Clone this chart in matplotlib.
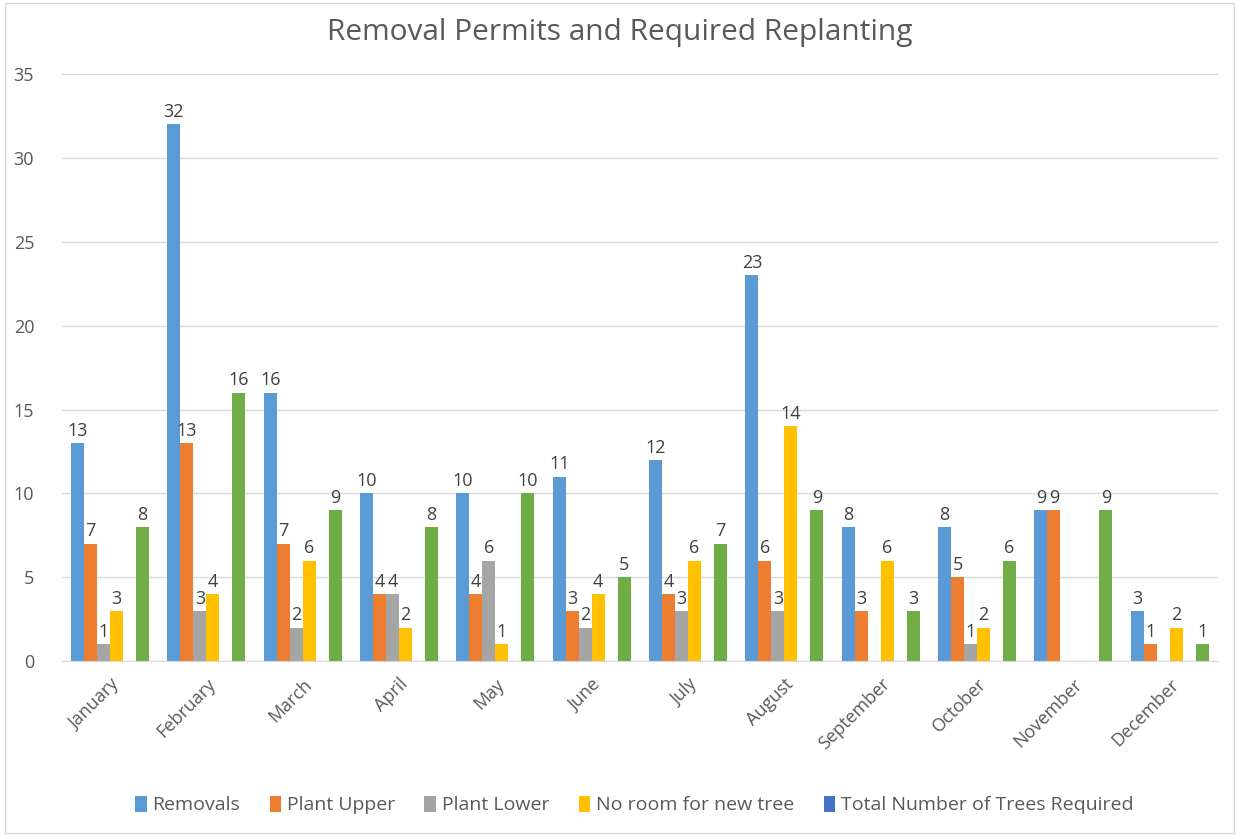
import numpy as np
import matplotlib.pyplot as plt

months = ['January', 'February', 'March', 'April', 'May', 'June', 'July',
          'August', 'September', 'October', 'November', 'December']
nan = np.nan
removals = [13, 32, 16, 10, 10, 11, 12, 23, 8, 8, 9, 3]
plant_upper = [7, 13, 7, 4, 4, 3, 4, 6, 3, 5, 9, 1]
plant_lower = [1, 3, 2, 4, 6, 2, 3, 3, nan, 1, nan, nan]
no_room = [3, 4, 6, 2, 1, 4, 6, 14, 6, 2, nan, 2]
total_required = [nan] * 12
extra = [8, 16, 9, 8, 10, 5, 7, 9, 3, 6, 9, 1]

series = [
    ('Removals', removals, '#5B9BD5'),
    ('Plant Upper', plant_upper, '#ED7D31'),
    ('Plant Lower', plant_lower, '#A5A5A5'),
    ('No room for new tree', no_room, '#FFC000'),
    ('Total Number of Trees Required', total_required, '#4472C4'),
    ('_extra', extra, '#70AD47'),
]

plt.rcParams['font.family'] = ['Open Sans', 'DejaVu Sans']

fig = plt.figure(figsize=(12.39, 8.36), dpi=100)
ax = fig.add_axes([0.050, 0.209, 0.933, 0.7025])

x = np.arange(len(months))
w = 0.135
n = len(series)
handles = []
for i, (name, vals, color) in enumerate(series):
    pos = x + (i - (n - 1) / 2) * w
    v = np.array(vals, dtype=float)
    bars = ax.bar(pos, np.nan_to_num(v), width=w, color=color, label=name)
    if not name.startswith('_'):
        handles.append(bars)
    for p, val in zip(pos, v):
        if not np.isnan(val):
            ax.text(p, val + 0.2, f'{int(val)}', ha='center', va='bottom',
                    fontsize=13, color='#404040')

ax.set_ylim(0, 35)
ax.set_xlim(-0.5, len(months) - 0.5)
ax.set_yticks(range(0, 36, 5))
ax.set_xticks(x)
ax.set_xticklabels(months, rotation=45, ha='right', rotation_mode='anchor')
ax.tick_params(axis='both', length=0, labelsize=13, colors='#595959')
ax.tick_params(axis='x', pad=10)
ax.tick_params(axis='y', pad=20)
ax.grid(axis='y', color='#D9D9D9', linewidth=1)
ax.set_axisbelow(True)
for s in ['top', 'right', 'left']:
    ax.spines[s].set_visible(False)
ax.spines['bottom'].set_color('#D9D9D9')

fig.suptitle('Removal Permits and Required Replanting', y=0.978,
             fontsize=21.5, color='#595959')

fig.legend(handles=handles, loc='center', bbox_to_anchor=(0.512, 0.037),
           ncol=5, frameon=False, fontsize=14, handlelength=0.6,
           handleheight=0.9, columnspacing=1.5, handletextpad=0.3,
           labelcolor='#595959')

border = plt.Rectangle((0.004, 0.004), 0.992, 0.992, transform=fig.transFigure,
                       fill=False, edgecolor='#D9D9D9', linewidth=1)
fig.patches.append(border)

fig.savefig('out.png', dpi=100)
